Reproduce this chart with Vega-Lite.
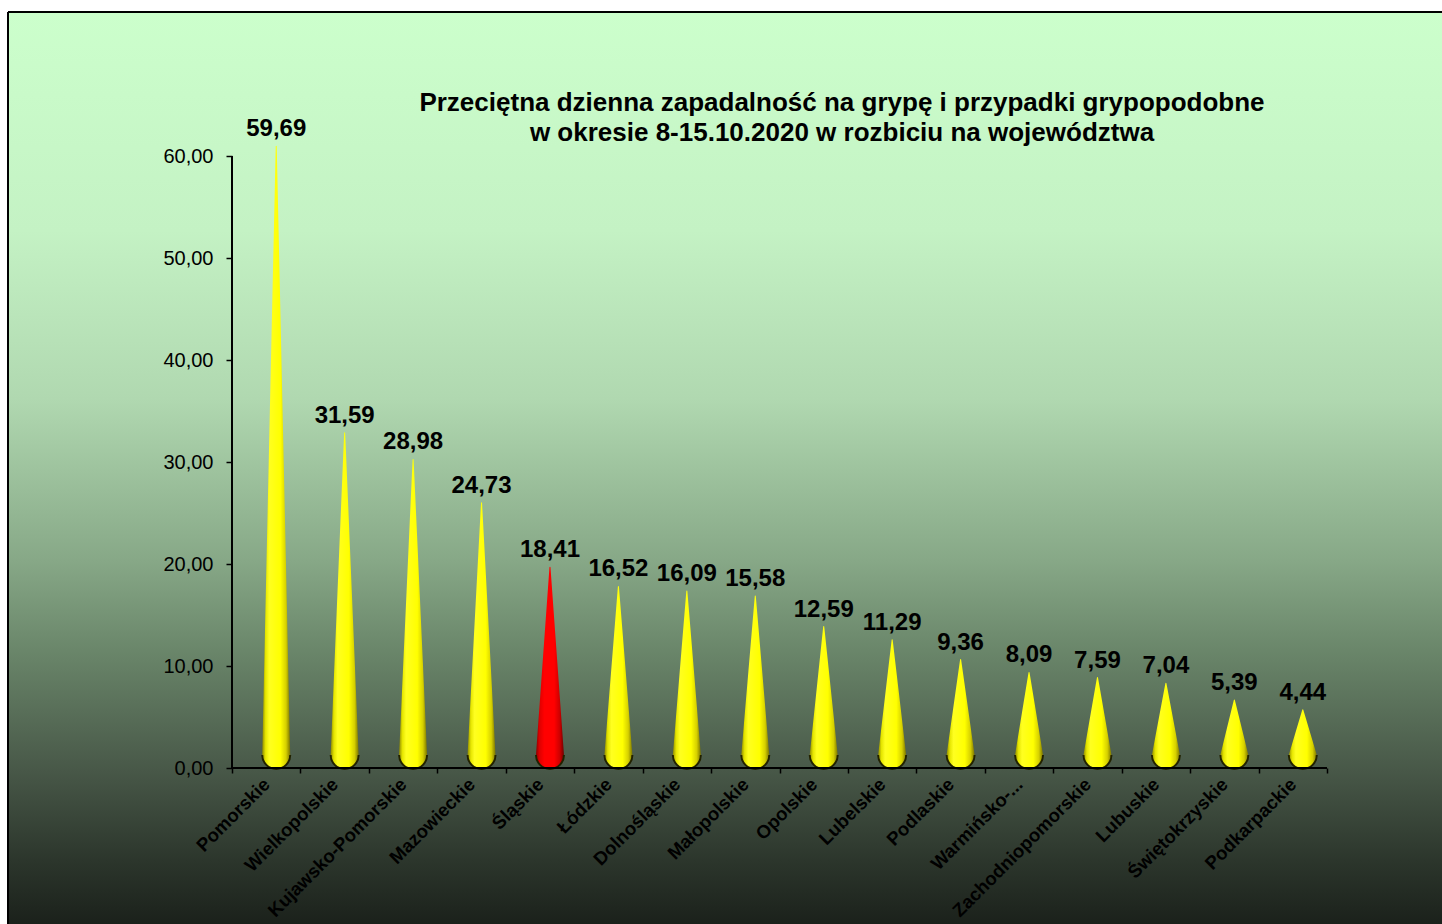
{
  "$schema": "https://vega.github.io/schema/vega-lite/v6.json",
  "width": 1434,
  "height": 912,
  "autosize": {"type": "none"},
  "padding": {"left": 8, "top": 12, "right": 0, "bottom": 0},
  "background": "white",
  "title": {
    "text": ["Przeciętna dzienna zapadalność na grypę i przypadki grypopodobne", "w okresie 8-15.10.2020 w rozbiciu na województwa"],
    "anchor": "middle",
    "frame": "group",
    "offset": -134,
    "baseline": "top",
    "dx": 117,
    "fontSize": 26,
    "fontWeight": "bold",
    "font": "Liberation Sans",
    "color": "black",
    "lineHeight": 30
  },
  "data": {
    "values": [
      {"woj": "Pomorskie", "v": 59.69},
      {"woj": "Wielkopolskie", "v": 31.59},
      {"woj": "Kujawsko-Pomorskie", "v": 28.98},
      {"woj": "Mazowieckie", "v": 24.73},
      {"woj": "Śląskie", "v": 18.41},
      {"woj": "Łódzkie", "v": 16.52},
      {"woj": "Dolnośląskie", "v": 16.09},
      {"woj": "Małopolskie", "v": 15.58},
      {"woj": "Opolskie", "v": 12.59},
      {"woj": "Lubelskie", "v": 11.29},
      {"woj": "Podlaskie", "v": 9.36},
      {"woj": "Warmińsko-...", "v": 8.09},
      {"woj": "Zachodniopomorskie", "v": 7.59},
      {"woj": "Lubuskie", "v": 7.04},
      {"woj": "Świętokrzyskie", "v": 5.39},
      {"woj": "Podkarpackie", "v": 4.44}
    ]
  },
  "layer": [
    {
      "transform": [
        {"fold": ["v"]},
        {"impute": "value", "key": "key", "keyvals": ["baza", "v"], "groupby": ["woj"], "value": 0}
      ],
      "mark": {"type": "trail", "xOffset": 10, "yOffset": -13},
      "encoding": {
        "x": {
          "field": "woj", "type": "nominal", "bandPosition": 0.5, "title": null,
          "scale": {
            "type": "band",
            "domain": ["Pomorskie", "Wielkopolskie", "Kujawsko-Pomorskie", "Mazowieckie", "Śląskie", "Łódzkie", "Dolnośląskie", "Małopolskie", "Opolskie", "Lubelskie", "Podlaskie", "Warmińsko-...", "Zachodniopomorskie", "Lubuskie", "Świętokrzyskie", "Podkarpackie"],
            "paddingInner": 0, "paddingOuter": 0, "range": [224, 1319]
          },
          "axis": {
            "orient": "bottom", "offset": -156, "domain": false, "grid": false,
            "tickBand": "extent", "tickSize": 5, "tickColor": "black", "tickWidth": 1.5,
            "labelAngle": -45, "labelAlign": "right", "labelBaseline": "middle", "labelPadding": 8,
            "labelFontSize": 18.5, "labelFontWeight": "bold", "labelFont": "Liberation Sans",
            "labelColor": "black", "labelOverlap": false, "labelLimit": 400, "zindex": 1
          }
        },
        "y": {
          "field": "value", "type": "quantitative", "title": null,
          "scale": {"domain": [-15.294, 74.118], "nice": false, "zero": false},
          "axis": {
            "values": [0, 10, 20, 30, 40, 50, 60], "format": ".2f", "offset": -224,
            "domain": false, "grid": false, "tickSize": 6, "tickColor": "black", "tickWidth": 1.5,
            "labelPadding": 13, "labelFontSize": 20, "labelFont": "Liberation Sans",
            "labelColor": "black", "zindex": 1
          }
        },
        "detail": {"field": "woj", "type": "nominal"},
        "size": {
          "field": "key", "type": "ordinal", "legend": null,
          "scale": {"domain": ["baza", "v"], "range": [28, 0]}
        },
        "order": {"field": "value", "type": "quantitative"},
        "color": {
          "condition": {
            "test": "datum.woj === 'Śląskie'",
            "value": {"gradient": "linear", "x1": 0, "y1": 0, "x2": 1, "y2": 0, "stops": [
              {"offset": 0, "color": "#8a0000"},
              {"offset": 0.12, "color": "#dd0000"},
              {"offset": 0.3, "color": "#ff0000"},
              {"offset": 0.65, "color": "#ff0000"},
              {"offset": 0.85, "color": "#cc0000"},
              {"offset": 1, "color": "#700000"}
            ]}
          },
          "value": {"gradient": "linear", "x1": 0, "y1": 0, "x2": 1, "y2": 0, "stops": [
            {"offset": 0, "color": "#8f8a00"},
            {"offset": 0.12, "color": "#e6e600"},
            {"offset": 0.25, "color": "#ffff20"},
            {"offset": 0.65, "color": "#ffff00"},
            {"offset": 0.85, "color": "#d6d000"},
            {"offset": 1, "color": "#7a7400"}
          ]}
        }
      }
    },
    {
      "mark": {"type": "point", "shape": "M-1,0A1,1,0,0,0,1,0", "size": 784, "filled": false, "stroke": "#222200", "strokeWidth": 2, "opacity": 1, "xOffset": 10, "yOffset": -13},
      "encoding": {
        "x": {"field": "woj", "type": "nominal", "bandPosition": 0.5},
        "y": {"datum": 0, "type": "quantitative", "scale": {"domain": [-15.294, 74.118], "nice": false, "zero": false}}
      }
    },
    {
      "mark": {"type": "text", "font": "Liberation Sans", "fontSize": 24, "fontWeight": "bold", "color": "black", "baseline": "middle", "align": "center", "xOffset": 10, "yOffset": -30},
      "encoding": {
        "x": {"field": "woj", "type": "nominal", "bandPosition": 0.5},
        "y": {"field": "v", "type": "quantitative", "scale": {"domain": [-15.294, 74.118], "nice": false, "zero": false}},
        "text": {"field": "v", "type": "quantitative", "format": ".2f"}
      }
    },
    {
      "data": {"values": [{}]},
      "mark": {"type": "rule", "color": "black", "strokeWidth": 2},
      "encoding": {
        "x": {"datum": "Pomorskie", "bandPosition": 0},
        "y": {"datum": 0, "type": "quantitative"},
        "y2": {"datum": 60}
      }
    },
    {
      "data": {"values": [{}]},
      "mark": {"type": "rule", "color": "black", "strokeWidth": 2},
      "encoding": {
        "x": {"datum": "Pomorskie", "bandPosition": 0},
        "x2": {"datum": "Podkarpackie", "bandPosition": 1},
        "y": {"datum": 0, "type": "quantitative"}
      }
    }
  ],
  "config": {
    "locale": {"number": {"decimal": ",", "thousands": " ", "grouping": [3], "currency": ["", " zł"]}},
    "view": {
      "fill": {"gradient": "linear", "x1": 0, "y1": 0, "x2": 0, "y2": 1, "stops": [
        {"offset": 0, "color": "#ccffcc"},
        {"offset": 0.239, "color": "#c4f2c4"},
        {"offset": 0.425, "color": "#b0d8b0"},
        {"offset": 0.601, "color": "#87a887"},
        {"offset": 0.7, "color": "#6a866a"},
        {"offset": 0.831, "color": "#485848"},
        {"offset": 0.93, "color": "#2c362c"},
        {"offset": 1, "color": "#1b211b"}
      ]},
      "stroke": "black",
      "strokeWidth": 2,
      "strokeDash": [1434, 2346, 912, 0]
    }
  }
}
